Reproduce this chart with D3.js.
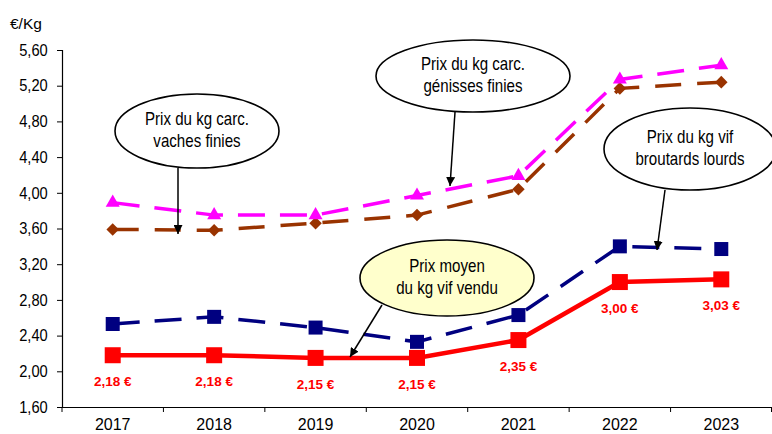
<!DOCTYPE html>
<html>
<head>
<meta charset="utf-8">
<script src="https://cdn.jsdelivr.net/npm/d3@7/dist/d3.min.js"></script>
<style>
  html, body { margin: 0; padding: 0; background: #fff; }
  svg { display: block; font-family: "Liberation Sans", Arial, sans-serif; }
</style>
</head>
<body>
<svg id="chart" width="772" height="434"></svg>
<script>
// Years on the horizontal axis
const years = ["2017", "2018", "2019", "2020", "2021", "2022", "2023"];

// Prix moyen du kg vif vendu (€/kg)
const prixMoyenVif = [2.18, 2.18, 2.15, 2.15, 2.35, 3.00, 3.03];
// Prix du kg vif broutards lourds (€/kg)
const broutardsLourds = [2.53, 2.61, 2.49, 2.33, 2.63, 3.40, 3.37];
// Prix du kg carcasse génisses finies (€/kg)
const genissesFinies = [3.89, 3.75, 3.75, 3.97, 4.19, 5.27, 5.43];
// Prix du kg carcasse vaches finies (€/kg)
const vachesFinies = [3.59, 3.58, 3.66, 3.75, 4.04, 5.17, 5.24];

// Value axis ticks
const yTicks = [1.60, 2.00, 2.40, 2.80, 3.20, 3.60, 4.00, 4.40, 4.80, 5.20, 5.60];

const svg = d3.select("#chart");
const plotLeft = 62, plotRight = 772, plotTop = 50, plotBottom = 407;

const x = d3.scaleBand().domain(years).range([plotLeft, plotRight]);
const cx = d => x(d) + x.bandwidth() / 2;
const y = d3.scaleLinear().domain([1.6, 5.6]).range([plotBottom, plotTop]);

const fmt = v => v.toFixed(2).replace(".", ",");

// Y axis
const yAxis = svg.append("g")
  .attr("transform", `translate(${plotLeft},0)`)
  .call(d3.axisLeft(y).tickValues(yTicks).tickFormat(fmt).tickSize(5).tickPadding(11));
yAxis.select(".domain").attr("stroke", "#000").attr("stroke-width", 1.2);
yAxis.selectAll(".tick line").attr("stroke", "#000");
yAxis.selectAll("text").attr("font-size", 16.5).attr("fill", "#000")
  .attr("font-family", "'Liberation Sans', Arial, sans-serif")
  .attr("transform", "scale(0.89,1)");

// X axis: labels centred in bands, tick marks on band boundaries
const xAxis = svg.append("g")
  .attr("transform", `translate(0,${plotBottom})`)
  .call(d3.axisBottom(x).tickSize(0).tickPadding(12));
xAxis.select(".domain").attr("stroke", "#000").attr("stroke-width", 1.2);
xAxis.selectAll("text").attr("font-size", 16).attr("fill", "#000")
  .attr("font-family", "'Liberation Sans', Arial, sans-serif");
const bounds = years.map(d => x(d)).concat([plotRight - 0.5]);
xAxis.selectAll(".bound").data(bounds).enter().append("line")
  .attr("x1", d => d).attr("x2", d => d)
  .attr("y1", 0).attr("y2", 5)
  .attr("stroke", "#000");

// Unit label
svg.append("text").attr("x", 10).attr("y", 29)
  .attr("font-size", 15.5).attr("fill", "#000").text("€/Kg");

const line = vals => d3.line().x((v, i) => cx(years[i])).y(v => y(v))(vals);

// Series lines
svg.append("path").attr("d", line(vachesFinies))
  .attr("fill", "none").attr("stroke", "#993300").attr("stroke-width", 3.5)
  .attr("stroke-dasharray", "26,16");
svg.append("path").attr("d", line(genissesFinies))
  .attr("fill", "none").attr("stroke", "#FF00FF").attr("stroke-width", 3.5)
  .attr("stroke-dasharray", "27,15");
svg.append("path").attr("d", line(broutardsLourds))
  .attr("fill", "none").attr("stroke", "#000080").attr("stroke-width", 3.5)
  .attr("stroke-dasharray", "27,15");
svg.append("path").attr("d", line(prixMoyenVif))
  .attr("fill", "none").attr("stroke", "#FF0000").attr("stroke-width", 4.5);

// Markers
svg.selectAll(".m-vaches").data(vachesFinies).enter().append("path")
  .attr("d", d3.symbol(d3.symbolDiamond2, 100)())
  .attr("transform", (v, i) => `translate(${cx(years[i])},${y(v)})`)
  .attr("fill", "#993300");
svg.selectAll(".m-genisses").data(genissesFinies).enter().append("path")
  .attr("d", d3.symbol(d3.symbolTriangle2, 140)())
  .attr("transform", (v, i) => `translate(${cx(years[i])},${y(v)})`)
  .attr("fill", "#FF00FF");
svg.selectAll(".m-broutards").data(broutardsLourds).enter().append("rect")
  .attr("x", (v, i) => cx(years[i]) - 7).attr("y", v => y(v) - 7)
  .attr("width", 14).attr("height", 14).attr("fill", "#000080");
svg.selectAll(".m-vif").data(prixMoyenVif).enter().append("rect")
  .attr("x", (v, i) => cx(years[i]) - 8).attr("y", v => y(v) - 8)
  .attr("width", 16).attr("height", 16).attr("fill", "#FF0000");

// Value labels under the average price series
svg.selectAll(".lbl").data(prixMoyenVif).enter().append("text")
  .attr("x", (v, i) => cx(years[i]))
  .attr("y", v => y(v) + 31)
  .attr("text-anchor", "middle")
  .attr("font-family", "'Liberation Sans Narrow', 'Arial Narrow', sans-serif")
  .attr("font-weight", "bold").attr("font-size", 13.5).attr("fill", "#FF0000")
  .text(v => fmt(v) + " €");

// Callouts
svg.append("defs").append("marker")
  .attr("id", "arrow").attr("viewBox", "0 0 10 10")
  .attr("refX", 10).attr("refY", 5)
  .attr("markerWidth", 9).attr("markerHeight", 9)
  .attr("markerUnits", "userSpaceOnUse")
  .attr("orient", "auto")
  .append("path").attr("d", "M0,0 L10,5 L0,10 Z").attr("fill", "#000");

const callouts = [
  { cx: 197, cy: 131, rx: 82, ry: 37, fill: "#fff", lines: ["Prix du kg carc.", "vaches finies"],
    from: [178, 168], to: [178, 234] },
  { cx: 473, cy: 76, rx: 97, ry: 36, fill: "#fff", lines: ["Prix du kg carc.", "génisses finies"],
    from: [455, 112], to: [450, 186] },
  { cx: 690, cy: 149, rx: 86, ry: 41, fill: "#fff", lines: ["Prix du kg vif", "broutards lourds"],
    from: [665, 190], to: [657, 250] },
  { cx: 447, cy: 278, rx: 87, ry: 38, fill: "#FFFFCC", lines: ["Prix moyen", "du kg vif vendu"],
    from: [382, 305], to: [350, 357] }
];

callouts.forEach(c => {
  svg.append("line")
    .attr("x1", c.from[0]).attr("y1", c.from[1])
    .attr("x2", c.to[0]).attr("y2", c.to[1])
    .attr("stroke", "#000").attr("stroke-width", 1.5)
    .attr("marker-end", "url(#arrow)");
  svg.append("ellipse")
    .attr("cx", c.cx).attr("cy", c.cy).attr("rx", c.rx).attr("ry", c.ry)
    .attr("fill", c.fill).attr("stroke", "#000").attr("stroke-width", 1.6);
  c.lines.forEach((t, k) => {
    svg.append("text")
      .attr("transform", `translate(${c.cx},${c.cy - 6 + k * 22}) scale(0.84,1)`)
      .attr("text-anchor", "middle")
      .attr("font-size", 18).attr("fill", "#000")
      .text(t);
  });
});
</script>
</body>
</html>
